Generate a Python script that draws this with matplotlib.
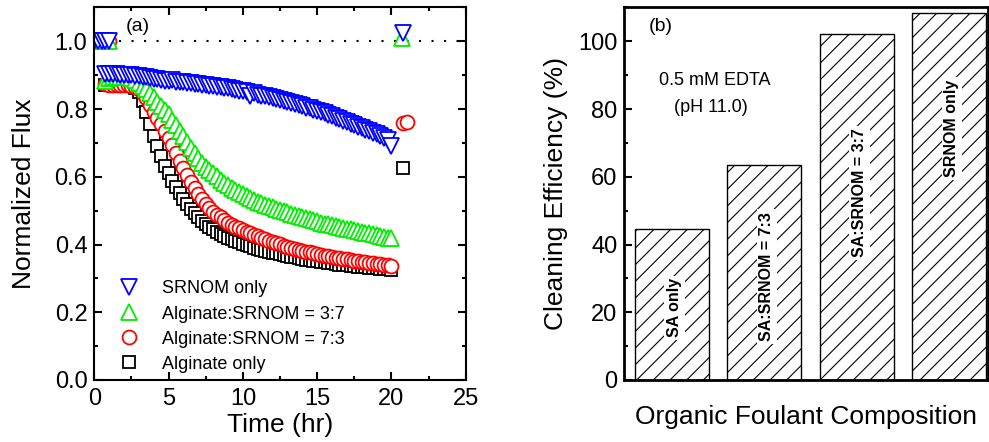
import matplotlib
matplotlib.use("Agg")
import matplotlib.pyplot as plt
from matplotlib.ticker import MultipleLocator, FormatStrFormatter

plt.rcParams['font.family'] = ['Liberation Sans', 'DejaVu Sans']
plt.rcParams['hatch.linewidth'] = 0.8

# ---------------- data: (a) normalized flux ----------------
time = [0.75, 1.0, 1.25, 1.5, 1.75, 2.0, 2.25, 2.5, 2.75, 3.0, 3.25, 3.5, 3.75, 4.0, 4.25, 4.5,
        4.75, 5.0, 5.25, 5.5, 5.75, 6.0, 6.25, 6.5, 6.75, 7.0, 7.25, 7.5, 7.75, 8.0, 8.25, 8.5,
        8.75, 9.0, 9.25, 9.5, 9.75, 10.0, 10.25, 10.5, 10.75, 11.0, 11.25, 11.5, 11.75, 12.0, 12.25, 12.5,
        12.75, 13.0, 13.25, 13.5, 13.75, 14.0, 14.25, 14.5, 14.75, 15.0, 15.25, 15.5, 15.75, 16.0, 16.25, 16.5,
        16.75, 17.0, 17.25, 17.5, 17.75, 18.0, 18.25, 18.5, 18.75, 19.0, 19.25, 19.5, 19.75, 20.0]

flux_srnom = [0.905, 0.904, 0.904, 0.903, 0.902, 0.902, 0.901, 0.900, 0.899, 0.897, 0.896, 0.894, 0.893, 0.890, 0.889, 0.887,
              0.884, 0.882, 0.885, 0.881, 0.879, 0.880, 0.877, 0.876, 0.874, 0.875, 0.871, 0.870, 0.868, 0.869, 0.865, 0.864,
              0.861, 0.862, 0.858, 0.857, 0.854, 0.853, 0.849, 0.840, 0.846, 0.843, 0.840, 0.838, 0.835, 0.833, 0.829, 0.827,
              0.823, 0.821, 0.817, 0.815, 0.811, 0.808, 0.804, 0.802, 0.797, 0.795, 0.790, 0.787, 0.782, 0.779, 0.774, 0.771,
              0.766, 0.762, 0.757, 0.754, 0.748, 0.745, 0.739, 0.736, 0.730, 0.726, 0.720, 0.715, 0.708, 0.690]

flux_37 = [0.882, 0.893, 0.894, 0.895, 0.895, 0.894, 0.894, 0.892, 0.886, 0.877, 0.868, 0.858, 0.847, 0.835, 0.822, 0.810,
           0.797, 0.785, 0.769, 0.753, 0.736, 0.720, 0.703, 0.686, 0.670, 0.655, 0.642, 0.630, 0.620, 0.610, 0.601, 0.592,
           0.583, 0.575, 0.568, 0.561, 0.554, 0.548, 0.543, 0.537, 0.532, 0.527, 0.523, 0.518, 0.514, 0.510, 0.506, 0.502,
           0.499, 0.495, 0.491, 0.488, 0.484, 0.481, 0.478, 0.474, 0.471, 0.468, 0.465, 0.462, 0.460, 0.457, 0.455, 0.452,
           0.450, 0.447, 0.445, 0.442, 0.440, 0.437, 0.435, 0.433, 0.430, 0.428, 0.426, 0.423, 0.419, 0.418]

flux_73 = [0.875, 0.872, 0.871, 0.871, 0.871, 0.871, 0.870, 0.869, 0.866, 0.860, 0.848, 0.832, 0.812, 0.790, 0.773, 0.755,
           0.736, 0.715, 0.693, 0.670, 0.647, 0.625, 0.604, 0.585, 0.567, 0.550, 0.535, 0.520, 0.508, 0.497, 0.488, 0.480,
           0.472, 0.465, 0.459, 0.453, 0.448, 0.443, 0.438, 0.433, 0.428, 0.424, 0.420, 0.416, 0.411, 0.408, 0.404, 0.401,
           0.397, 0.394, 0.391, 0.388, 0.385, 0.382, 0.379, 0.377, 0.374, 0.372, 0.370, 0.367, 0.365, 0.363, 0.361, 0.359,
           0.357, 0.356, 0.354, 0.352, 0.351, 0.349, 0.348, 0.346, 0.345, 0.343, 0.342, 0.341, 0.340, 0.338]

flux_alg = [0.872, 0.872, 0.872, 0.871, 0.871, 0.871, 0.870, 0.868, 0.862, 0.850, 0.825, 0.790, 0.755, 0.720, 0.690, 0.660,
            0.633, 0.610, 0.589, 0.570, 0.552, 0.535, 0.519, 0.505, 0.492, 0.480, 0.470, 0.460, 0.452, 0.445, 0.438, 0.432,
            0.426, 0.420, 0.415, 0.411, 0.406, 0.402, 0.398, 0.395, 0.391, 0.388, 0.385, 0.382, 0.379, 0.376, 0.374, 0.371,
            0.369, 0.366, 0.364, 0.362, 0.359, 0.357, 0.355, 0.354, 0.352, 0.350, 0.348, 0.347, 0.345, 0.344, 0.342, 0.341,
            0.340, 0.339, 0.337, 0.336, 0.335, 0.334, 0.333, 0.332, 0.331, 0.330, 0.329, 0.328, 0.327, 0.326]

# clean-water flux before fouling
base_time = [0.0, 0.25, 0.5, 0.75, 1.0]
base_flux = [1.0, 1.0, 1.0, 1.0, 1.0]

# flux recovered after cleaning
rec_time_srnom, rec_flux_srnom = [20.75], [1.025]
rec_time_37, rec_flux_37 = [20.7], [1.01]
rec_time_73, rec_flux_73 = [20.75, 21.05], [0.758, 0.762]
rec_time_alg, rec_flux_alg = [20.8], [0.625]

# ---------------- data: (b) cleaning efficiency ----------------
bar_labels = ['SA only', 'SA:SRNOM = 7:3', 'SA:SRNOM = 3:7', 'SRNOM only']
efficiency = [44.7, 63.5, 102.2, 108.3]
label_y = [21.3, 30.6, 55.3, 74.3]

fig = plt.figure(figsize=(9.89, 4.42), dpi=100)
ax1 = fig.add_axes([0.0954, 0.1403, 0.3755, 0.8428])
ax2 = fig.add_axes([0.6313, 0.1403, 0.3677, 0.8428])

# ---------------- panel (a) ----------------
ax1.axhline(1.0, color='black', linestyle=(0, (1, 5)), linewidth=1.5, zorder=1)

series = [
    (flux_alg, rec_time_alg, rec_flux_alg, 's', 'black', 9, 'Alginate only'),
    (flux_73, rec_time_73, rec_flux_73, 'o', 'red', 10, 'Alginate:SRNOM = 7:3'),
    (flux_37, rec_time_37, rec_flux_37, '^', '#00ee00', 11, 'Alginate:SRNOM = 3:7'),
    (flux_srnom, rec_time_srnom, rec_flux_srnom, 'v', 'blue', 11, 'SRNOM only'),
]
handles = {}
for flux, rt, rf, mk, col, ms, lab in series:
    style = dict(linestyle='none', marker=mk, markersize=ms, markerfacecolor='white',
                 markeredgecolor=col, markeredgewidth=1.3)
    ax1.plot(base_time, base_flux, **style, zorder=2)
    h, = ax1.plot(time, flux, **style, zorder=3, label=lab)
    ax1.plot(rt, rf, **style, zorder=3)
    handles[lab] = h

order = ['SRNOM only', 'Alginate:SRNOM = 3:7', 'Alginate:SRNOM = 7:3', 'Alginate only']
ax1.legend([handles[k] for k in order], order, loc='lower left', bbox_to_anchor=(0.045, 0.0),
           frameon=False, fontsize=13, handletextpad=1.2, labelspacing=0.45, handlelength=1.2,
           borderaxespad=0.0)

ax1.set_xlim(0, 25)
ax1.set_ylim(0, 1.1)
ax1.xaxis.set_major_locator(MultipleLocator(5))
ax1.xaxis.set_minor_locator(MultipleLocator(2.5))
ax1.yaxis.set_major_locator(MultipleLocator(0.2))
ax1.yaxis.set_minor_locator(MultipleLocator(0.1))
ax1.yaxis.set_major_formatter(FormatStrFormatter('%.1f'))
ax1.tick_params(which='both', direction='in', top=True, right=True, width=1.5, labelsize=17)
ax1.tick_params(which='major', length=6)
ax1.tick_params(which='minor', length=3)
ax1.tick_params(axis='x', pad=6)
ax1.tick_params(axis='y', pad=5)
for sp in ax1.spines.values():
    sp.set_linewidth(1.5)
ax1.set_xlabel('Time (hr)', fontsize=19, labelpad=2)
ax1.set_ylabel('Normalized Flux', fontsize=19, labelpad=13)
ax1.text(2.14, 1.045, '(a)', fontsize=14, va='center')

# ---------------- panel (b) ----------------
pos = [1, 2, 3, 4]
ax2.bar(pos, efficiency, width=0.8, color='white', edgecolor='black', linewidth=1.0, hatch='//')
for x, lab, ly in zip(pos, bar_labels, label_y):
    ax2.text(x + 0.03, ly, lab, rotation=90, fontsize=11.5, fontweight='bold', ha='center', va='center',
             bbox=dict(facecolor='white', edgecolor='none', pad=2))

ax2.set_xlim(0.49, 4.42)
ax2.set_ylim(0, 110)
ax2.set_xticks([])
ax2.yaxis.set_major_locator(MultipleLocator(20))
ax2.yaxis.set_minor_locator(MultipleLocator(10))
ax2.tick_params(which='both', direction='in', width=1.5, labelsize=17, pad=5)
ax2.tick_params(which='major', length=6)
ax2.tick_params(which='minor', length=3)
for sp in ax2.spines.values():
    sp.set_linewidth(2.0)
ax2.set_xlabel('Organic Foulant Composition', fontsize=19, labelpad=18)
ax2.set_ylabel('Cleaning Efficiency (%)', fontsize=19, labelpad=7)
ax2.text(0.755, 104.5, '(b)', fontsize=14, va='center')
ax2.text(1.47, 88.3, '0.5 mM EDTA', fontsize=13, ha='center', va='center')
ax2.text(1.42, 80.6, '(pH 11.0)', fontsize=13, ha='center', va='center')

fig.savefig('out.png', dpi=100)
